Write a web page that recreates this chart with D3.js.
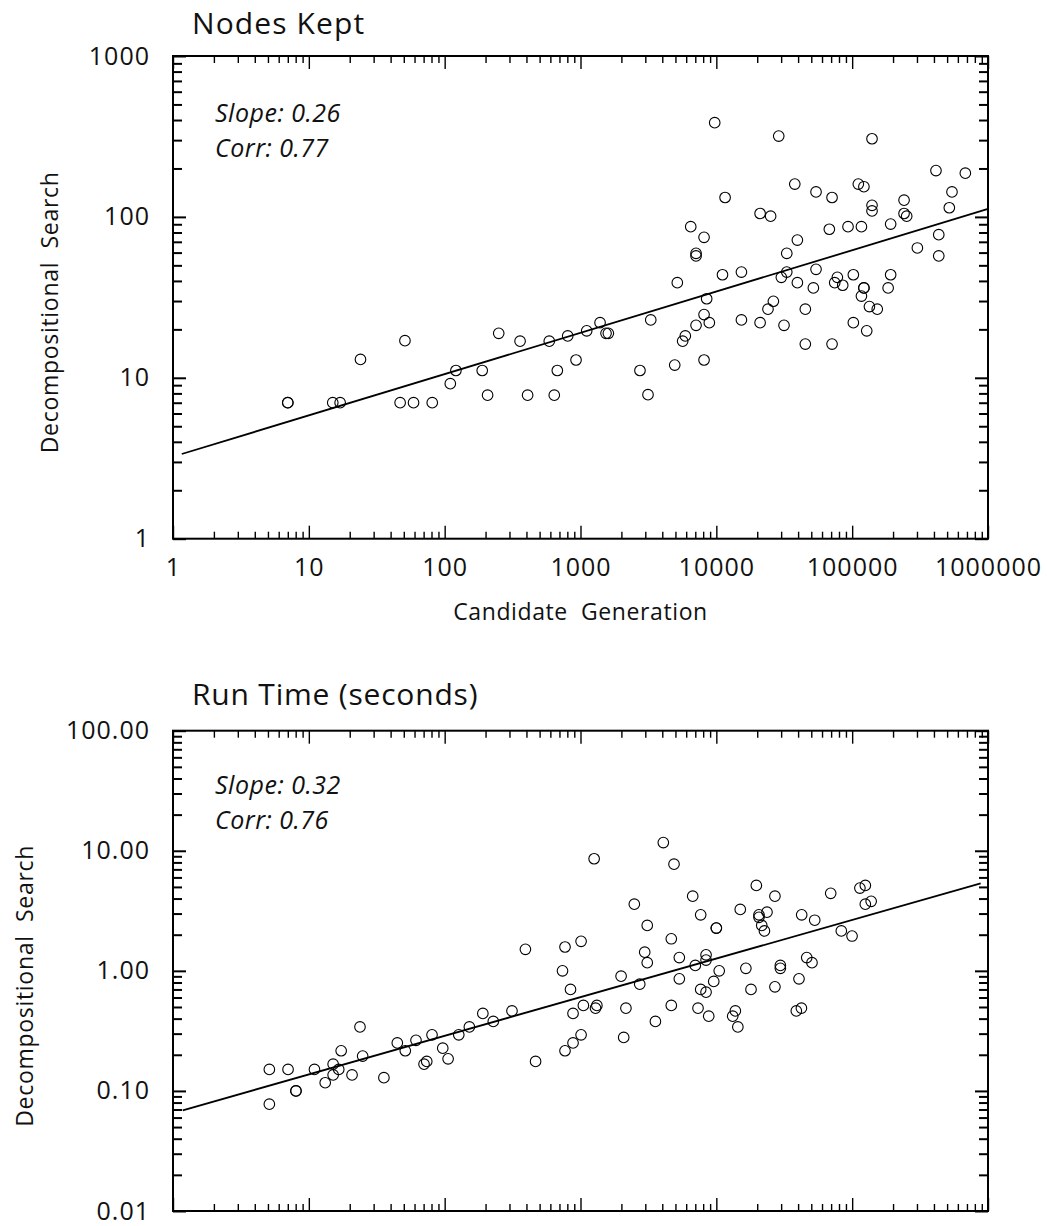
<!DOCTYPE html>
<html>
<head>
<meta charset="utf-8">
<script src="https://cdn.jsdelivr.net/npm/d3@7"></script>
<style>
  html, body { margin: 0; padding: 0; background: #fff; }
  svg { display: block; font-family: "Open Sans", "Noto Sans", sans-serif; }
</style>
</head>
<body>
<svg id="chart" width="1047" height="1226"></svg>
<script>
// ---------------- DATA ----------------
// Panel 1: Nodes Kept
const nodesTitle = "Nodes Kept";
const nodesCandGen = [7, 7, 15, 17, 24, 51, 47, 59, 81, 110, 121, 189, 207, 250, 359, 408, 589, 641, 675, 805, 927, 1111, 1393, 1541, 1603,
  9730, 28800, 140000, 414000, 681000, 37800, 111000, 122000, 54200, 71100, 11600, 543000, 241000, 140000, 140000, 519000,
  21000, 25100, 241000, 252000, 6480, 67900, 93200, 117000, 192000, 8120, 39500, 434000, 7090, 7090, 33000, 302000, 434000,
  5160, 11100, 15300, 33000, 30100, 54200, 39500, 51800, 77800, 74400, 85200, 102000, 122000, 122000, 117000, 192000, 184000,
  8490, 8120, 3290, 7090, 8880, 5910, 5650, 4940, 8120, 2740, 3140, 26300, 24000, 15300, 21000, 31500, 45200, 45200, 71100,
  102000, 134000, 153000, 128000];
const nodesDecomp = [7, 7, 7, 7, 13, 17, 7, 7, 7, 9.2, 11.1, 11.1, 7.8, 18.9, 16.9, 7.8, 16.9, 7.8, 11.1, 18.2, 12.9, 19.6, 22, 18.9, 18.9,
  385, 318, 306, 194, 187, 160, 160, 154, 143, 132, 132, 143, 127, 118, 109, 114,
  105, 101, 105, 101, 86.9, 83.8, 86.9, 86.9, 90.3, 74.7, 71.8, 77.5, 59.4, 57.2, 59.4, 64.1, 57.2,
  39.0, 43.7, 45.4, 45.4, 42.1, 47.2, 39.0, 36.2, 42.1, 39.0, 37.6, 43.7, 36.2, 36.2, 32.2, 43.7, 36.2,
  31.0, 24.7, 22.9, 21.2, 22.0, 18.2, 16.9, 12.0, 12.9, 11.1, 7.85, 29.9, 26.7, 22.9, 22.0, 21.2, 26.7, 16.2, 16.2,
  22.0, 27.7, 26.7, 19.6];
const nodesFitX = [1.16, 1000000];
const nodesFitY = [3.36, 112];
const nodesNotes = ["Slope: 0.26", "Corr: 0.77"];
const nodesXTicks = [1, 10, 100, 1000, 10000, 100000, 1000000];
const nodesXLabels = ["1", "10", "100", "1000", "10000", "100000", "1000000"];
const nodesYTicks = [1, 10, 100, 1000];
const nodesYLabels = ["1", "10", "100", "1000"];

// Panel 2: Run Time (seconds)
const timeTitle = "Run Time (seconds)";
const timeCandGen = [0.0512, 0.0512, 0.0703, 0.0804, 0.0804, 0.110, 0.132, 0.151, 0.151, 0.166, 0.173, 0.208, 0.238, 0.249, 0.357,
  0.448, 0.513, 0.615, 0.705, 0.738, 0.807, 0.968, 1.06, 1.27, 1.52, 1.91, 2.28, 3.13, 3.93, 4.67,
  7.69, 10.1, 7.37, 8.44, 10.5, 8.81, 12.9, 13.2, 10.1, 8.81, 7.69, 12.6, 40.7, 48.8, 24.9, 31.0,
  19.9, 27.3, 21.6, 20.8, 35.6, 46.6, 53.4, 46.6, 29.7, 31.0, 53.4, 67.0, 76.7, 84.0, 84.0, 70.0,
  105, 95.7, 76.7, 84.0, 73.3, 87.9, 132, 138, 144, 150, 100, 100, 165, 180, 270, 296, 296,
  197, 270, 206, 206, 236, 216, 226, 425, 530, 406, 463, 506, 388, 423, 695, 832, 998, 1140, 1250, 1250, 1380];
const timeDecomp = [0.151, 0.0775, 0.151, 0.100, 0.100, 0.151, 0.117, 0.167, 0.136, 0.151, 0.216, 0.136, 0.341, 0.195, 0.129,
  0.251, 0.216, 0.264, 0.167, 0.176, 0.293, 0.227, 0.185, 0.293, 0.341, 0.442, 0.379, 0.464, 1.51, 0.176,
  1.58, 1.76, 1.00, 0.700, 0.515, 0.442, 0.489, 0.515, 0.293, 0.251, 0.216, 8.58, 11.7, 7.74, 3.59, 2.39,
  0.903, 0.775, 0.489, 0.279, 0.379, 0.515, 0.858, 1.85, 1.43, 1.17, 1.29, 4.19, 2.93, 1.36, 1.23, 1.11,
  1.00, 0.816, 0.700, 0.664, 0.489, 0.419, 0.419, 0.464, 0.341, 3.25, 2.27, 2.27, 1.05, 0.700, 0.736, 1.11, 1.05,
  5.15, 4.19, 2.93, 2.79, 3.08, 2.39, 2.15, 2.93, 2.64, 0.858, 1.29, 1.17, 0.464, 0.489, 4.42, 2.15, 1.95, 4.89, 5.15, 3.59, 3.79];
const timeFitX = [0.0118, 8830];
const timeFitY = [0.069, 5.35];
const timeNotes = ["Slope: 0.32", "Corr: 0.76"];
const timeXTicks = [0.01, 0.1, 1, 10, 100, 1000, 10000];
const timeXLabels = ["", "", "", "", "", "", ""];
const timeYTicks = [0.01, 0.1, 1, 10, 100];
const timeYLabels = ["0.01", "0.10", "1.00", "10.00", "100.00"];

const xAxisTitle = "Candidate  Generation";
const yAxisTitle = "Decompositional  Search";

// ---------------- DRAW ----------------
const svg = d3.select("#chart");

function isMajor(d) {
  const l = Math.log10(d);
  return Math.abs(l - Math.round(l)) < 1e-6;
}

function panel(cfg) {
  const { left, right, top, bottom } = cfg;
  const x = d3.scaleLog().domain([cfg.xTicks[0], cfg.xTicks[cfg.xTicks.length - 1]]).range([left, right]);
  const y = d3.scaleLog().domain([cfg.yTicks[0], cfg.yTicks[cfg.yTicks.length - 1]]).range([bottom, top]);
  const g = svg.append("g");

  const MAJ = 13, XMIN = 7, YMIN = 9;
  const xl = d => { const i = cfg.xTicks.findIndex(t => Math.abs(t - d) / t < 1e-6); return i >= 0 ? cfg.xLabels[i] : ""; };
  const yl = d => { const i = cfg.yTicks.findIndex(t => Math.abs(t - d) / t < 1e-6); return i >= 0 ? cfg.yLabels[i] : ""; };

  // bottom axis
  const gb = g.append("g").attr("transform", `translate(0,${bottom})`)
    .call(d3.axisBottom(x).tickValues(x.ticks()).tickSizeInner(-MAJ).tickSizeOuter(0).tickPadding(19.5).tickFormat(xl));
  gb.selectAll(".tick line").attr("y2", d => isMajor(d) ? -MAJ : -XMIN).attr("stroke-width", 1.4);
  gb.selectAll(".tick text").attr("font-size", 25).attr("letter-spacing", 1).attr("fill", "#111")
    .attr("font-family", "'Open Sans', sans-serif");
  // top axis
  const gt = g.append("g").attr("transform", `translate(0,${top})`)
    .call(d3.axisTop(x).tickValues(x.ticks()).tickSizeInner(-MAJ).tickSizeOuter(0).tickFormat(""));
  gt.selectAll(".tick line").attr("y2", d => isMajor(d) ? MAJ : XMIN).attr("stroke-width", 1.4);
  // left axis
  const gl = g.append("g").attr("transform", `translate(${left},0)`)
    .call(d3.axisLeft(y).tickValues(y.ticks()).tickSizeInner(-MAJ).tickSizeOuter(0).tickPadding(23).tickFormat(yl));
  gl.selectAll(".tick line").attr("x2", d => isMajor(d) ? MAJ : YMIN).attr("stroke-width", 2);
  gl.selectAll(".tick text").attr("font-size", 25).attr("letter-spacing", 1).attr("fill", "#111")
    .attr("font-family", "'Open Sans', sans-serif");
  // right axis
  const gr = g.append("g").attr("transform", `translate(${right},0)`)
    .call(d3.axisRight(y).tickValues(y.ticks()).tickSizeInner(-MAJ).tickSizeOuter(0).tickFormat(""));
  gr.selectAll(".tick line").attr("x2", d => isMajor(d) ? -MAJ : -YMIN).attr("stroke-width", 2);

  g.selectAll(".domain").remove();

  // frame
  g.append("rect").attr("x", left).attr("y", top).attr("width", right - left).attr("height", bottom - top)
    .attr("fill", "none").attr("stroke", "#000").attr("stroke-width", 2);

  // fit line
  const line = d3.line().x(d => x(d[0])).y(d => y(d[1]));
  g.append("path").datum(d3.zip(cfg.fitX, cfg.fitY)).attr("d", line)
    .attr("fill", "none").attr("stroke", "#000").attr("stroke-width", 1.8);

  // points
  g.append("g").selectAll("circle").data(d3.zip(cfg.xs, cfg.ys)).join("circle")
    .attr("cx", d => x(d[0])).attr("cy", d => y(d[1])).attr("r", 5.3)
    .attr("fill", "none").attr("stroke", "#000").attr("stroke-width", 1.1);

  // title
  g.append("text").attr("x", 192).attr("y", cfg.titleY).attr("font-size", 30).attr("letter-spacing", cfg.titleLS)
    .attr("fill", "#111").text(cfg.title);

  // annotations
  g.append("g").selectAll("text").data(cfg.notes).join("text")
    .attr("x", 215).attr("y", (d, i) => cfg.noteY + i * 35)
    .attr("font-size", 25).attr("font-style", "italic").attr("letter-spacing", 0.5).attr("fill", "#111")
    .text(d => d);

  // y axis title
  g.append("text").attr("transform", `translate(${cfg.yTitleX},${(top + bottom) / 2 + 15}) rotate(-90)`)
    .attr("text-anchor", "middle").attr("font-size", 23).attr("letter-spacing", 0.7)
    .style("white-space", "pre").attr("fill", "#111").text(yAxisTitle);

  if (cfg.showXTitle) {
    g.append("text").attr("x", (left + right) / 2).attr("y", bottom + 81)
      .attr("text-anchor", "middle").attr("font-size", 23).attr("letter-spacing", 0.6)
      .style("white-space", "pre").attr("fill", "#111").text(xAxisTitle);
  }
}

panel({
  left: 173, right: 988, top: 56, bottom: 538.7,
  xTicks: nodesXTicks, xLabels: nodesXLabels, yTicks: nodesYTicks, yLabels: nodesYLabels,
  xs: nodesCandGen, ys: nodesDecomp, fitX: nodesFitX, fitY: nodesFitY,
  title: nodesTitle, titleY: 34, titleLS: 1.1, notes: nodesNotes, noteY: 122, yTitleX: 58, showXTitle: true
});

panel({
  left: 173, right: 988, top: 730.7, bottom: 1211,
  xTicks: timeXTicks, xLabels: timeXLabels, yTicks: timeYTicks, yLabels: timeYLabels,
  xs: timeCandGen, ys: timeDecomp, fitX: timeFitX, fitY: timeFitY,
  title: timeTitle, titleY: 705, titleLS: 0.8, notes: timeNotes, noteY: 794, yTitleX: 33, showXTitle: false
});
</script>
</body>
</html>
